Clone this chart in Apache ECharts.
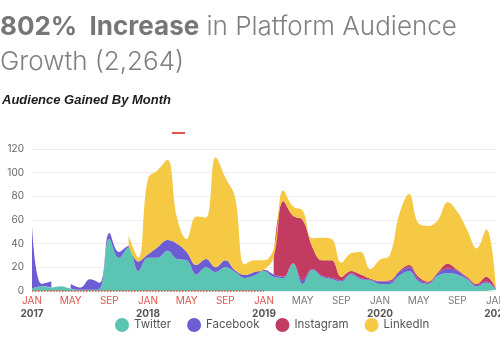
<!DOCTYPE html>
<html>
<head>
<meta charset="utf-8">
<script src="https://cdn.jsdelivr.net/npm/echarts@6/dist/echarts.min.js"></script>
<style>
  html, body { margin: 0; padding: 0; background: #fff; }
  #chart { width: 500px; height: 350px; }
</style>
</head>
<body>
<div id="chart"></div>
<script>
// months Jan 2017 .. Jan 2021
var months = [];
var monthNames = ['JAN','FEB','MAR','APR','MAY','JUN','JUL','AUG','SEP','OCT','NOV','DEC'];
for (var yr = 2017; yr <= 2021; yr++) {
    for (var m = 0; m < 12; m++) {
        if (yr === 2021 && m > 0) break;
        months.push(monthNames[m] + ' ' + yr);
    }
}

var seriesNames = ['Twitter', 'Facebook', 'Instagram', 'LinkedIn'];

var twitterData = [
    2, 4, 3, 4, 2, 1, 1, 2, 44, 28, 37, 17,
    28, 28, 34, 27, 26, 14, 20, 16, 20, 16, 11, 13,
    17, 12, 11, 23, 6, 18, 12, 10, 8, 14, 10, 9,
    6, 6, 13, 17, 8, 6, 13, 15, 14, 10, 4, 7,
    1
];
var facebookData = [
    53, 2, 5, null, 4, 2, 9, 5, 5, 5, 1, 8,
    3, 9, 9, 13, 7, 8, 7, 4, 6, 1.5, 2.5, 3,
    1, 2, 1, 0.5, 3, 0.5, 1, 1, 1, 1, 1, 0.5,
    2, 2, 3, 3, 2, 1, 2, 4, 3, 1, 1, 1,
    0.5
];
var instagramData = [
    null, null, null, null, null, null, null, null, null, null, null, null,
    null, null, null, null, null, null, null, null, null, null, null, null,
    null, 14, 64, 40, 51, 19, 13, 15, 3, 2, 3, 1,
    0.5, 1, 1, 2, 2, 1, 1, 4, 1, 1, 1, 4,
    0.5
];
var linkedinData = [
    null, null, null, null, null, null, null, null, null, null, 9, 3,
    64, 65, 68, 22, 11, 41, 35, 93, 70, 62, 9, 10,
    8, 8, 9, 8, 8, 7, 19, 18, 12, 15, 19, 8,
    18, 21, 48, 60, 45, 47, 44, 52, 49, 40, 30, 40,
    0.5
];

var colors = ['#5cc4b2', '#6c5dd3', '#c23c62', '#f6c945'];
var highlightEnd = 24; // axis highlighted up to JAN 2019

function areaSeries(name, data, idx) {
    return {
        name: name,
        type: 'line',
        stack: 'total',
        smooth: 0.4,
        showSymbol: false,
        symbol: 'none',
        lineStyle: { width: 0 },
        areaStyle: { color: colors[idx], opacity: 1 },
        itemStyle: { color: colors[idx] },
        data: data
    };
}

var series = [
    areaSeries('Twitter', twitterData, 0),
    areaSeries('Facebook', facebookData, 1),
    areaSeries('Instagram', instagramData, 2),
    areaSeries('LinkedIn', linkedinData, 3)
];
series[0].markLine = {
    silent: true,
    symbol: 'none',
    label: { show: false },
    lineStyle: { color: '#e0564c', type: 'dotted', width: 1.5 },
    data: [[{ coord: [months[0], 0] }, { coord: [months[highlightEnd], 0] }]]
};

var option = {
    animation: false,
    backgroundColor: '#fff',
    color: colors,
    title: [
        {
            left: 0,
            top: 10,
            padding: 0,
            text: '{b|802%  Increase}{l| in Platform Audience}\n{l|Growth (2,264)}',
            textStyle: {
                rich: {
                    b: { fontFamily: 'Inter', fontSize: 26, fontWeight: 700, color: '#777', lineHeight: 35 },
                    l: { fontFamily: 'Inter', fontSize: 26, fontWeight: 300, color: '#808080', lineHeight: 35 }
                }
            }
        },
        {
            left: 2,
            top: 94,
            padding: 0,
            text: 'Audience Gained By Month',
            textStyle: {
                fontFamily: 'Liberation Sans',
                fontSize: 13,
                fontWeight: 'bold',
                fontStyle: 'italic',
                color: '#1c1c1c'
            }
        }
    ],
    legend: {
        data: seriesNames,
        left: 110,
        top: 313,
        icon: 'circle',
        itemWidth: 14,
        itemHeight: 14,
        itemGap: 16,
        textStyle: { fontFamily: 'Inter', fontSize: 11.5, color: '#555' }
    },
    grid: {
        left: 32,
        right: 4,
        top: 149,
        bottom: 59,
        containLabel: false,
        outerBoundsMode: 'none'
    },
    xAxis: {
        type: 'category',
        boundaryGap: false,
        data: months,
        axisLine: { show: false },
        axisTick: { show: false },
        splitLine: { show: false },
        axisLabel: {
            interval: 3,
            margin: 3,
            formatter: function (value, index) {
                var parts = value.split(' ');
                var st = index <= highlightEnd ? 'r' : 'g';
                var yearLine = parts[0] === 'JAN' ? '{y|' + parts[1] + '}' : '{y| }';
                return '{' + st + '|' + parts[0] + '}\n' + yearLine;
            },
            rich: {
                r: { fontFamily: 'Inter', fontSize: 10, color: '#e0564c', lineHeight: 13 },
                g: { fontFamily: 'Inter', fontSize: 10, color: '#7a7a7a', lineHeight: 13 },
                y: { fontFamily: 'Inter', fontSize: 10, fontWeight: 'bold', color: '#555', lineHeight: 13 }
            }
        }
    },
    yAxis: {
        type: 'value',
        min: 0,
        max: 120,
        interval: 20,
        axisLine: { show: false },
        axisTick: { show: false },
        axisLabel: { fontFamily: 'Inter', fontSize: 10, color: '#666', margin: 8 },
        splitLine: { lineStyle: { color: '#eeeeee', width: 1 } }
    },
    graphic: [
        { type: 'rect', left: 172, top: 132, shape: { width: 13, height: 2 }, style: { fill: '#e0564c' } }
    ],
    series: series
};

var chart = echarts.init(document.getElementById('chart'));
chart.setOption(option);
</script>
</body>
</html>
